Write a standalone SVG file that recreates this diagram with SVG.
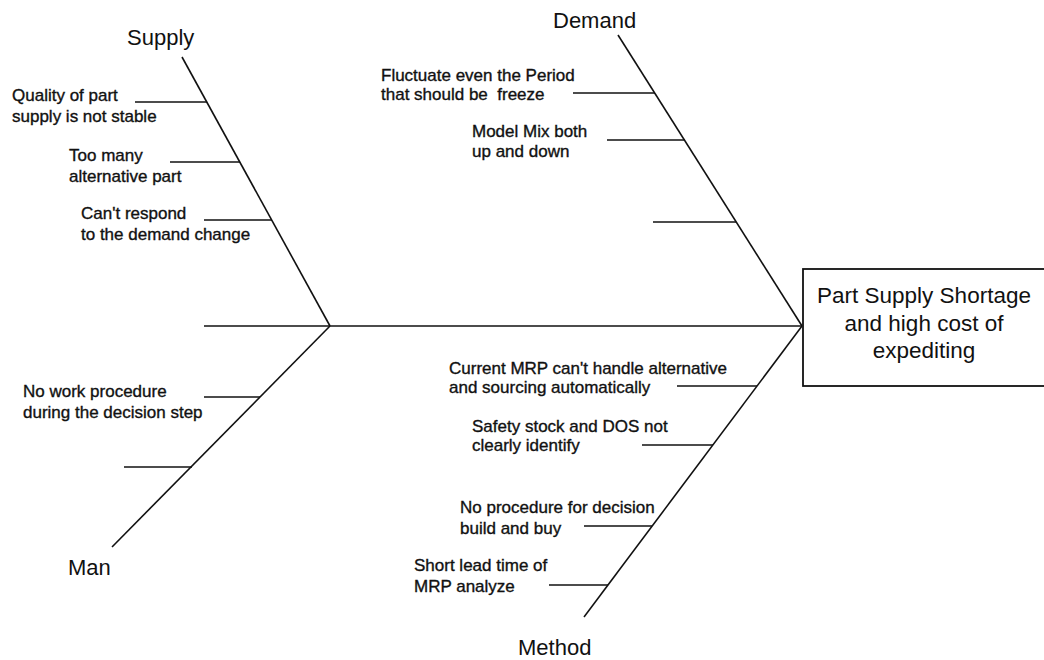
<svg xmlns="http://www.w3.org/2000/svg" width="1044" height="660" viewBox="0 0 1044 660">
<style>
.bg{fill:#fff}
.ln{stroke:#111;stroke-width:1.6;fill:none;stroke-linecap:butt}
.cat{font-family:"Liberation Sans",Arial,sans-serif;font-size:22px;fill:#111}
.cause{font-family:"Liberation Sans",Arial,sans-serif;font-size:17px;fill:#111;stroke:#111;stroke-width:0.35}
.eff{font-family:"Liberation Sans",Arial,sans-serif;font-size:22.5px;fill:#111;text-anchor:middle}
.box{fill:#fff;stroke:#111;stroke-width:1.8}
</style>
<rect class="bg" x="0" y="0" width="1044" height="660"/>
<g id="connectors">
  <line class="ln" x1="204" y1="326" x2="802" y2="326"/>
  <line class="ln" x1="182" y1="57" x2="330" y2="326"/>
  <line class="ln" x1="135" y1="102" x2="207" y2="102"/>
  <line class="ln" x1="170" y1="162" x2="240" y2="162"/>
  <line class="ln" x1="204" y1="220" x2="272" y2="220"/>
  <line class="ln" x1="618" y1="35" x2="802" y2="326"/>
  <line class="ln" x1="573" y1="93" x2="655" y2="93"/>
  <line class="ln" x1="607" y1="140" x2="685" y2="140"/>
  <line class="ln" x1="653" y1="222" x2="736" y2="222"/>
  <line class="ln" x1="330" y1="326" x2="112" y2="547"/>
  <line class="ln" x1="204" y1="397" x2="260" y2="397"/>
  <line class="ln" x1="124" y1="467" x2="192" y2="467"/>
  <line class="ln" x1="802" y1="326" x2="584" y2="617"/>
  <line class="ln" x1="677" y1="386" x2="757" y2="386"/>
  <line class="ln" x1="642" y1="445" x2="713" y2="445"/>
  <line class="ln" x1="584" y1="526" x2="652" y2="526"/>
  <line class="ln" x1="549" y1="585" x2="608" y2="585"/>
</g>
<g id="effect">
  <rect class="box" x="803" y="269" width="252" height="117"/>
  <text class="eff" x="924" y="303">Part Supply Shortage</text>
  <text class="eff" x="924" y="331">and high cost of</text>
  <text class="eff" x="924" y="358">expediting</text>
</g>
<g id="cat-supply"><text class="cat" x="127" y="45">Supply</text></g>
<g id="cat-demand"><text class="cat" x="553" y="28">Demand</text></g>
<g id="cat-man"><text class="cat" x="68" y="575">Man</text></g>
<g id="cat-method"><text class="cat" x="518" y="655">Method</text></g>
<g id="cause-supply-1"><text class="cause" x="12" y="101">Quality of part</text><text class="cause" x="12" y="122">supply is not stable</text></g>
<g id="cause-supply-2"><text class="cause" x="69" y="161">Too many</text><text class="cause" x="69" y="182">alternative part</text></g>
<g id="cause-supply-3"><text class="cause" x="81" y="219">Can't respond</text><text class="cause" x="81" y="240">to the demand change</text></g>
<g id="cause-demand-1"><text class="cause" x="381" y="81">Fluctuate even the Period</text><text class="cause" x="381" y="100" xml:space="preserve">that should be  freeze</text></g>
<g id="cause-demand-2"><text class="cause" x="472" y="137">Model Mix both</text><text class="cause" x="472" y="157">up and down</text></g>
<g id="cause-man-1"><text class="cause" x="23" y="397">No work procedure</text><text class="cause" x="23" y="418">during the decision step</text></g>
<g id="cause-method-1"><text class="cause" x="449" y="374">Current MRP can't handle alternative</text><text class="cause" x="449" y="393">and sourcing automatically</text></g>
<g id="cause-method-2"><text class="cause" x="472" y="432">Safety stock and DOS not</text><text class="cause" x="472" y="451">clearly identify</text></g>
<g id="cause-method-3"><text class="cause" x="460" y="513">No procedure for decision</text><text class="cause" x="460" y="534">build and buy</text></g>
<g id="cause-method-4"><text class="cause" x="414" y="571">Short lead time of</text><text class="cause" x="414" y="592">MRP analyze</text></g>
</svg>
